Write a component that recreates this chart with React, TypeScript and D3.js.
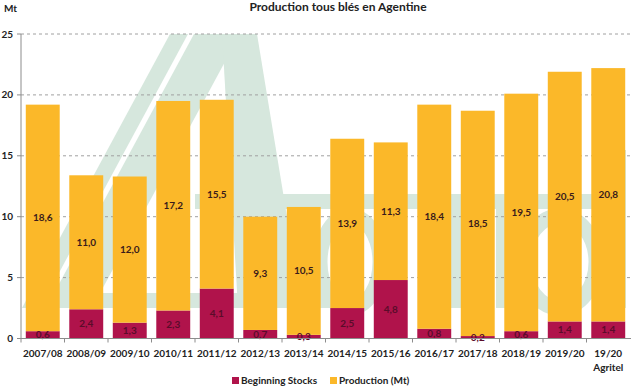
import React from "react";
import * as d3 from "d3";

// values (Mt)
const categories = [
  "2007/08", "2008/09", "2009/10", "2010/11", "2011/12", "2012/13", "2013/14",
  "2014/15", "2015/16", "2016/17", "2017/18", "2018/19", "2019/20", "19/20|Agritel",
];
const stocks = [0.6, 2.4, 1.3, 2.3, 4.1, 0.7, 0.3, 2.5, 4.8, 0.8, 0.2, 0.6, 1.4, 1.4];
const production = [18.6, 11.0, 12.0, 17.2, 15.5, 9.3, 10.5, 13.9, 11.3, 18.4, 18.5, 19.5, 20.5, 20.8];
const yTicks = [0, 5, 10, 15, 20, 25];
const seriesNames = ["Beginning Stocks", "Production (Mt)"];

const width = 631,
  height = 388;
const stockColor = "#b0134b";
const prodColor = "#fbb829";
const wmColor = "#d6e7dd";
const font = "Lato, 'Open Sans', sans-serif";

const fmt = (v: number) => d3.format(".1f")(v).replace(".", ",");

const App = () => {
  const x = d3
    .scaleBand()
    .domain(categories)
    .range([21, 630])
    .paddingInner(0.22)
    .paddingOuter(0.11);
  const y = d3.scaleLinear().domain([0, 25]).range([338.5, 34]);

  const rows = categories.map((c, i) => ({ cat: c, stocks: stocks[i], production: production[i] }));
  const stacked = d3.stack().keys(["stocks", "production"])(rows as any);

  const bw = x.bandwidth();

  return (
    <svg
      width={width}
      height={height}
      style={{ position: "absolute", left: 0, top: 0, background: "#fff" }}
      fontFamily={font}
    >
      {/* watermark (Agritel logo, faint) */}
      <g fill={wmColor}>
        <polygon points="170,34 188,34 40,308 22,308" />
        <polygon points="194,34 240,34 92,308 46,308" />
        <polygon points="222,34 257,34 302,308 238,308" />
        <rect x={195} y={194} width={410} height={15} />
        <rect x={30} y={293} width={300} height={15} />
        <rect x={450} y={194} width={15} height={114} />
        <rect x={496} y={194} width={14} height={114} />
        <rect x={612} y={150} width={14} height={158} />
      </g>
      <g fill="none" stroke={wmColor} strokeWidth={15}>
        <ellipse cx={350} cy={262} rx={30} ry={46} />
        <ellipse cx={560} cy={262} rx={36} ry={46} />
      </g>

      {/* gridlines */}
      {yTicks
        .filter((t) => t > 0)
        .map((t) => (
          <line
            key={t}
            x1={21}
            x2={631}
            y1={y(t)}
            y2={y(t)}
            stroke="#a0a0a0"
            strokeDasharray="3,3"
          />
        ))}

      {/* bars */}
      {stacked.map((s, si) => (
        <g key={s.key} fill={si === 0 ? stockColor : prodColor}>
          {s.map((d: any) => (
            <rect
              key={d.data.cat}
              x={x(d.data.cat)}
              y={y(d[1])}
              width={bw}
              height={y(d[0]) - y(d[1])}
            />
          ))}
        </g>
      ))}

      {/* value labels */}
      {stacked.map((s, si) => (
        <g
          key={"l" + s.key}
          fontSize={10}
          fontWeight="bold"
          textAnchor="middle"
          fill={si === 0 ? "#5a0c2a" : "#3a1b1b"}
        >
          {s.map((d: any) => (
            <text
              key={d.data.cat}
              x={(x(d.data.cat) as number) + bw / 2}
              y={Math.min(y((d[0] + d[1]) / 2), 337) + 3.5}
            >
              {fmt(d[1] - d[0])}
            </text>
          ))}
        </g>
      ))}

      {/* axes */}
      <line x1={21} x2={21} y1={34} y2={338.5} stroke="#8c8c8c" />
      <line x1={21} x2={631} y1={338.5} y2={338.5} stroke="#8c8c8c" />
      {yTicks.map((t) => (
        <g key={"yt" + t}>
          <line x1={17} x2={21} y1={y(t)} y2={y(t)} stroke="#8c8c8c" />
          <text x={13} y={y(t) + 3.5} fontSize={10} fontWeight="bold" textAnchor="end" fill="#222">
            {t}
          </text>
        </g>
      ))}
      {categories.map((c, i) => {
        const x0 = (x(c) as number) - (x.step() - bw) / 2;
        return <line key={"xt" + i} x1={x0} x2={x0} y1={338.5} y2={342.5} stroke="#8c8c8c" />;
      })}
      {categories.map((c) => (
        <text
          key={"xl" + c}
          x={(x(c) as number) + bw / 2}
          y={357}
          fontSize={10}
          fontWeight="bold"
          textAnchor="middle"
          fill="#222"
        >
          {c.split("|").map((line, li) => (
            <tspan key={li} x={(x(c) as number) + bw / 2} dy={li === 0 ? 0 : 14}>
              {line}
            </tspan>
          ))}
        </text>
      ))}

      {/* titles */}
      <text x={338} y={11} fontSize={12} fontWeight="bold" textAnchor="middle" fill="#222">
        Production tous blés en Agentine
      </text>
      <text x={4} y={12} fontSize={10} fontWeight="bold" fill="#222">
        Mt
      </text>

      {/* legend */}
      {seriesNames.map((n, i) => (
        <g key={n} transform={`translate(${i === 0 ? 232 : 330},377)`}>
          <rect width={7} height={7} fill={i === 0 ? stockColor : prodColor} />
          <text x={9} y={7} fontSize={10} fontWeight="bold" fill="#222">
            {n}
          </text>
        </g>
      ))}
    </svg>
  );
};

export default App;
